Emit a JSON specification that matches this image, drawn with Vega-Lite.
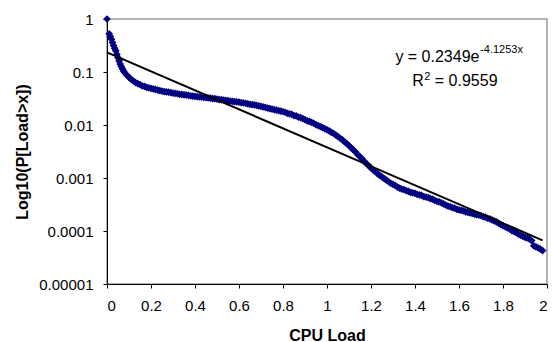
{
  "$schema": "https://vega.github.io/schema/vega-lite/v6.json",
  "width": 440,
  "height": 265,
  "autosize": {"type": "none"},
  "padding": {"left": 107, "top": 19, "right": 5, "bottom": 58},
  "background": "white",
  "config": {
    "font": "Liberation Sans",
    "view": {"stroke": "#9a9a9a", "strokeWidth": 1.5},
    "axis": {
      "grid": false,
      "domainColor": "black",
      "domainWidth": 1,
      "tickColor": "black",
      "tickSize": 4,
      "labelFont": "Liberation Sans",
      "labelFontSize": 15,
      "labelColor": "black",
      "labelPadding": 10,
      "titleFont": "Liberation Sans",
      "titleFontSize": 16,
      "titleFontWeight": "bold",
      "titleColor": "black"
    }
  },
  "datasets": {
    "load": [
      {"x": 0.00, "p": 1},
      {"x": 0.01, "p": 0.525},
      {"x": 0.015, "p": 0.47},
      {"x": 0.02, "p": 0.417},
      {"x": 0.025, "p": 0.36},
      {"x": 0.03, "p": 0.316},
      {"x": 0.035, "p": 0.28},
      {"x": 0.04, "p": 0.251},
      {"x": 0.045, "p": 0.215},
      {"x": 0.05, "p": 0.186},
      {"x": 0.055, "p": 0.162},
      {"x": 0.06, "p": 0.141},
      {"x": 0.065, "p": 0.127},
      {"x": 0.07, "p": 0.115},
      {"x": 0.075, "p": 0.105},
      {"x": 0.08, "p": 0.0977},
      {"x": 0.09, "p": 0.0871},
      {"x": 0.10, "p": 0.0794},
      {"x": 0.11, "p": 0.0724},
      {"x": 0.12, "p": 0.0676},
      {"x": 0.13, "p": 0.0631},
      {"x": 0.14, "p": 0.0603},
      {"x": 0.15, "p": 0.0575},
      {"x": 0.16, "p": 0.0550},
      {"x": 0.17, "p": 0.0537},
      {"x": 0.18, "p": 0.0513},
      {"x": 0.19, "p": 0.0501},
      {"x": 0.20, "p": 0.0490},
      {"x": 0.21, "p": 0.0479},
      {"x": 0.22, "p": 0.0468},
      {"x": 0.23, "p": 0.0457},
      {"x": 0.24, "p": 0.0447},
      {"x": 0.25, "p": 0.0437},
      {"x": 0.26, "p": 0.0427},
      {"x": 0.27, "p": 0.0420},
      {"x": 0.28, "p": 0.0417},
      {"x": 0.29, "p": 0.0407},
      {"x": 0.30, "p": 0.0398},
      {"x": 0.31, "p": 0.0395},
      {"x": 0.32, "p": 0.0389},
      {"x": 0.33, "p": 0.0380},
      {"x": 0.34, "p": 0.0378},
      {"x": 0.35, "p": 0.0372},
      {"x": 0.36, "p": 0.0369},
      {"x": 0.37, "p": 0.0363},
      {"x": 0.38, "p": 0.0355},
      {"x": 0.39, "p": 0.0352},
      {"x": 0.40, "p": 0.0347},
      {"x": 0.41, "p": 0.0344},
      {"x": 0.42, "p": 0.0339},
      {"x": 0.43, "p": 0.0336},
      {"x": 0.44, "p": 0.0331},
      {"x": 0.45, "p": 0.0329},
      {"x": 0.46, "p": 0.0324},
      {"x": 0.47, "p": 0.0322},
      {"x": 0.48, "p": 0.0316},
      {"x": 0.49, "p": 0.0314},
      {"x": 0.50, "p": 0.0309},
      {"x": 0.51, "p": 0.0302},
      {"x": 0.52, "p": 0.0300},
      {"x": 0.53, "p": 0.0295},
      {"x": 0.54, "p": 0.0293},
      {"x": 0.55, "p": 0.0288},
      {"x": 0.56, "p": 0.0282},
      {"x": 0.57, "p": 0.0280},
      {"x": 0.58, "p": 0.0275},
      {"x": 0.59, "p": 0.0273},
      {"x": 0.60, "p": 0.0269},
      {"x": 0.61, "p": 0.0263},
      {"x": 0.62, "p": 0.0261},
      {"x": 0.63, "p": 0.0257},
      {"x": 0.64, "p": 0.0251},
      {"x": 0.65, "p": 0.0245},
      {"x": 0.66, "p": 0.0243},
      {"x": 0.67, "p": 0.0240},
      {"x": 0.68, "p": 0.0234},
      {"x": 0.69, "p": 0.0229},
      {"x": 0.70, "p": 0.0224},
      {"x": 0.71, "p": 0.0219},
      {"x": 0.72, "p": 0.0214},
      {"x": 0.73, "p": 0.0209},
      {"x": 0.74, "p": 0.0204},
      {"x": 0.75, "p": 0.0200},
      {"x": 0.76, "p": 0.0195},
      {"x": 0.77, "p": 0.0191},
      {"x": 0.78, "p": 0.0186},
      {"x": 0.79, "p": 0.0182},
      {"x": 0.80, "p": 0.0178},
      {"x": 0.81, "p": 0.0174},
      {"x": 0.82, "p": 0.0166},
      {"x": 0.83, "p": 0.0162},
      {"x": 0.84, "p": 0.0158},
      {"x": 0.85, "p": 0.0151},
      {"x": 0.86, "p": 0.0148},
      {"x": 0.87, "p": 0.0141},
      {"x": 0.88, "p": 0.0138},
      {"x": 0.89, "p": 0.0132},
      {"x": 0.90, "p": 0.0126},
      {"x": 0.91, "p": 0.0120},
      {"x": 0.92, "p": 0.0117},
      {"x": 0.93, "p": 0.0112},
      {"x": 0.94, "p": 0.0107},
      {"x": 0.95, "p": 0.0102},
      {"x": 0.96, "p": 0.00977},
      {"x": 0.97, "p": 0.00933},
      {"x": 0.98, "p": 0.00891},
      {"x": 0.99, "p": 0.00851},
      {"x": 1.00, "p": 0.00813},
      {"x": 1.01, "p": 0.00776},
      {"x": 1.02, "p": 0.00724},
      {"x": 1.03, "p": 0.00692},
      {"x": 1.04, "p": 0.00646},
      {"x": 1.05, "p": 0.00603},
      {"x": 1.06, "p": 0.00562},
      {"x": 1.07, "p": 0.00525},
      {"x": 1.08, "p": 0.00479},
      {"x": 1.09, "p": 0.00447},
      {"x": 1.10, "p": 0.00407},
      {"x": 1.11, "p": 0.00372},
      {"x": 1.12, "p": 0.00339},
      {"x": 1.13, "p": 0.00309},
      {"x": 1.14, "p": 0.00275},
      {"x": 1.15, "p": 0.00251},
      {"x": 1.16, "p": 0.00229},
      {"x": 1.17, "p": 0.00204},
      {"x": 1.18, "p": 0.00186},
      {"x": 1.19, "p": 0.00170},
      {"x": 1.20, "p": 0.00155},
      {"x": 1.21, "p": 0.00141},
      {"x": 1.22, "p": 0.00132},
      {"x": 1.23, "p": 0.00120},
      {"x": 1.24, "p": 0.00112},
      {"x": 1.25, "p": 0.00105},
      {"x": 1.26, "p": 0.000977},
      {"x": 1.27, "p": 0.000912},
      {"x": 1.28, "p": 0.000851},
      {"x": 1.29, "p": 0.000794},
      {"x": 1.30, "p": 0.000759},
      {"x": 1.31, "p": 0.000724},
      {"x": 1.32, "p": 0.000676},
      {"x": 1.33, "p": 0.000646},
      {"x": 1.34, "p": 0.000617},
      {"x": 1.35, "p": 0.000603},
      {"x": 1.36, "p": 0.000575},
      {"x": 1.37, "p": 0.000562},
      {"x": 1.38, "p": 0.000537},
      {"x": 1.39, "p": 0.000525},
      {"x": 1.40, "p": 0.000513},
      {"x": 1.41, "p": 0.000490},
      {"x": 1.42, "p": 0.000479},
      {"x": 1.43, "p": 0.000468},
      {"x": 1.44, "p": 0.000447},
      {"x": 1.45, "p": 0.000437},
      {"x": 1.46, "p": 0.000427},
      {"x": 1.47, "p": 0.000407},
      {"x": 1.48, "p": 0.000398},
      {"x": 1.49, "p": 0.000380},
      {"x": 1.50, "p": 0.000363},
      {"x": 1.51, "p": 0.000355},
      {"x": 1.52, "p": 0.000339},
      {"x": 1.53, "p": 0.000324},
      {"x": 1.54, "p": 0.000309},
      {"x": 1.55, "p": 0.000295},
      {"x": 1.56, "p": 0.000288},
      {"x": 1.57, "p": 0.000275},
      {"x": 1.58, "p": 0.000269},
      {"x": 1.59, "p": 0.000257},
      {"x": 1.60, "p": 0.000251},
      {"x": 1.61, "p": 0.000245},
      {"x": 1.62, "p": 0.000240},
      {"x": 1.63, "p": 0.000229},
      {"x": 1.64, "p": 0.000224},
      {"x": 1.65, "p": 0.000219},
      {"x": 1.66, "p": 0.000214},
      {"x": 1.67, "p": 0.000209},
      {"x": 1.68, "p": 0.000204},
      {"x": 1.69, "p": 0.000200},
      {"x": 1.70, "p": 0.000195},
      {"x": 1.71, "p": 0.000186},
      {"x": 1.72, "p": 0.000182},
      {"x": 1.73, "p": 0.000174},
      {"x": 1.74, "p": 0.000170},
      {"x": 1.75, "p": 0.000162},
      {"x": 1.76, "p": 0.000155},
      {"x": 1.77, "p": 0.000148},
      {"x": 1.78, "p": 0.000141},
      {"x": 1.79, "p": 0.000132},
      {"x": 1.80, "p": 0.000126},
      {"x": 1.81, "p": 0.000120},
      {"x": 1.82, "p": 0.000115},
      {"x": 1.83, "p": 0.000110},
      {"x": 1.84, "p": 0.000102},
      {"x": 1.85, "p": 0.0000977},
      {"x": 1.86, "p": 0.0000933},
      {"x": 1.87, "p": 0.0000871},
      {"x": 1.88, "p": 0.0000832},
      {"x": 1.89, "p": 0.0000794},
      {"x": 1.90, "p": 0.0000759},
      {"x": 1.91, "p": 0.0000741},
      {"x": 1.92, "p": 0.0000708},
      {"x": 1.93, "p": 0.0000661},
      {"x": 1.94, "p": 0.0000525},
      {"x": 1.95, "p": 0.0000501},
      {"x": 1.96, "p": 0.0000479},
      {"x": 1.97, "p": 0.0000457},
      {"x": 1.98, "p": 0.0000427}
    ],
    "trend": [
      {"x": 0, "p": 0.2349},
      {"x": 1.98, "p": 0.0000666}
    ],
    "labels": [
      {"part": "eq"},
      {"part": "exp"},
      {"part": "R"},
      {"part": "sq"},
      {"part": "r2"}
    ]
  },
  "layer": [
    {
      "data": {"name": "load"},
      "mark": {"type": "point", "shape": "diamond", "filled": true, "color": "#000080", "size": 60, "opacity": 1, "clip": false},
      "encoding": {
        "x": {
          "field": "x", "type": "quantitative",
          "scale": {"domain": [0, 2], "nice": false, "zero": false},
          "axis": {"title": "CPU Load", "values": [0, 0.2, 0.4, 0.6, 0.8, 1, 1.2, 1.4, 1.6, 1.8, 2], "format": ".1~f", "titlePadding": 14}
        },
        "y": {
          "field": "p", "type": "quantitative",
          "scale": {"type": "log", "domain": [0.00001, 1], "nice": false},
          "axis": {"title": "Log10(P[Load>x])", "values": [0.00001, 0.0001, 0.001, 0.01, 0.1, 1], "format": ".5~f", "titlePadding": 8}
        }
      }
    },
    {
      "data": {"name": "trend"},
      "mark": {"type": "line", "color": "black", "strokeWidth": 2},
      "encoding": {
        "x": {"field": "x", "type": "quantitative"},
        "y": {"field": "p", "type": "quantitative"}
      }
    },
    {
      "data": {"name": "labels"},
      "transform": [{"filter": "datum.part == 'eq'"}],
      "mark": {"type": "text", "text": "y = 0.2349e", "align": "right", "baseline": "alphabetic", "fontSize": 16, "font": "Liberation Sans", "color": "black"},
      "encoding": {"x": {"datum": 1.693, "type": "quantitative"}, "y": {"datum": 0.1545, "type": "quantitative"}}
    },
    {
      "data": {"name": "labels"},
      "transform": [{"filter": "datum.part == 'exp'"}],
      "mark": {"type": "text", "text": "-4.1253x", "align": "left", "baseline": "alphabetic", "fontSize": 11, "font": "Liberation Sans", "color": "black"},
      "encoding": {"x": {"datum": 1.696, "type": "quantitative"}, "y": {"datum": 0.232, "type": "quantitative"}}
    },
    {
      "data": {"name": "labels"},
      "transform": [{"filter": "datum.part == 'R'"}],
      "mark": {"type": "text", "text": "R", "align": "right", "baseline": "alphabetic", "fontSize": 16, "font": "Liberation Sans", "color": "black"},
      "encoding": {"x": {"datum": 1.44, "type": "quantitative"}, "y": {"datum": 0.0544, "type": "quantitative"}}
    },
    {
      "data": {"name": "labels"},
      "transform": [{"filter": "datum.part == 'sq'"}],
      "mark": {"type": "text", "text": "2", "align": "left", "baseline": "alphabetic", "fontSize": 11, "font": "Liberation Sans", "color": "black"},
      "encoding": {"x": {"datum": 1.442, "type": "quantitative"}, "y": {"datum": 0.0706, "type": "quantitative"}}
    },
    {
      "data": {"name": "labels"},
      "transform": [{"filter": "datum.part == 'r2'"}],
      "mark": {"type": "text", "text": "= 0.9559", "align": "left", "baseline": "alphabetic", "fontSize": 16, "font": "Liberation Sans", "color": "black"},
      "encoding": {"x": {"datum": 1.49, "type": "quantitative"}, "y": {"datum": 0.0544, "type": "quantitative"}}
    }
  ]
}
